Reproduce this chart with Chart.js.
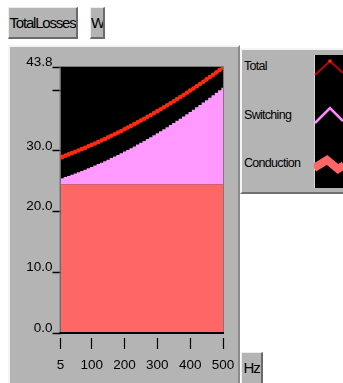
<!DOCTYPE html>
<html><head><meta charset="utf-8">
<script src="https://cdn.jsdelivr.net/npm/chart.js@4.4.0/dist/chart.umd.min.js"></script>
<style>
html,body{margin:0;padding:0;background:#fff;width:343px;height:383px;overflow:hidden;font-family:"Liberation Sans",Arial,sans-serif;}
.btn{position:absolute;background:#b4b4b4;border-style:solid;border-width:1px 2px 2px 1px;border-color:#ececec #6a6a6a #6a6a6a #ececec;box-sizing:border-box;font-size:15px;letter-spacing:-1.2px;color:#000;line-height:29px;text-align:center;white-space:nowrap;overflow:hidden;}
#panel{position:absolute;left:8px;top:45px;width:232px;height:345px;background:#b4b4b4;border-top:2px solid #f4f4f4;border-left:2px solid #f4f4f4;border-right:2px solid #8a8a8a;box-sizing:border-box;}
#legend{position:absolute;left:240px;top:48px;width:110px;height:146px;background:#b4b4b4;border-top:2px solid #f4f4f4;border-left:2px solid #f4f4f4;border-bottom:2px solid #707070;box-sizing:border-box;}
.lg{position:absolute;left:244px;font-size:12.5px;letter-spacing:-0.7px;color:#000;line-height:14px;white-space:nowrap;}
#sw{position:absolute;left:314px;top:55px;}
canvas{position:absolute;left:0;top:0;}
</style></head>
<body>
<div class="btn" style="left:8px;top:7px;width:70px;height:32px;">TotalLosses</div>
<div class="btn" style="left:90px;top:7px;width:15px;height:32px;">W</div>
<div id="panel"></div>
<div id="legend"></div>
<div class="lg" style="top:59px;">Total</div>
<div class="lg" style="top:108px;">Switching</div>
<div class="lg" style="top:156px;">Conduction</div>
<svg id="sw" width="29" height="133" viewBox="0 0 29 133">
  <rect x="0" y="0" width="29" height="133" fill="#000"/>
  <line x1="0.5" y1="0" x2="0.5" y2="133" stroke="#d8d8d8" stroke-width="1"/>
  <polyline points="1,20 16,6 29,18" fill="none" stroke="#c00000" stroke-width="2"/>
  <circle cx="16" cy="6" r="1.8" fill="#ff2a10"/>
  <polyline points="1,68 16,53 29,66" fill="none" stroke="#ff88ff" stroke-width="2.5"/>
  <polyline points="0,113 13,105 24,114 30,110" fill="none" stroke="#ff6666" stroke-width="8" stroke-linejoin="miter"/>
</svg>
<canvas id="c" width="343" height="383"></canvas>
<script>
const hz = [5,10,20,30,40,50,60,70,80,90,100,110,120,130,140,150,160,170,180,190,200,210,220,230,240,250,260,270,280,290,300,310,320,330,340,350,360,370,380,390,400,410,420,430,440,450,460,470,480,490,500];
const totalLosses = [28.9,29.0,29.2,29.41,29.62,29.84,30.06,30.28,30.51,30.74,30.97,31.21,31.45,31.7,31.95,32.21,32.47,32.73,33.0,33.27,33.55,33.83,34.11,34.4,34.69,34.99,35.29,35.59,35.9,36.21,36.53,36.85,37.17,37.5,37.83,38.17,38.51,38.85,39.2,39.56,39.91,40.27,40.64,41.01,41.38,41.76,42.14,42.52,42.91,43.3,43.7];
const switchingLosses = [0.9,0.99,1.18,1.37,1.56,1.77,1.97,2.18,2.4,2.62,2.84,3.07,3.31,3.55,3.79,4.04,4.3,4.56,4.82,5.09,5.37,5.65,5.93,6.22,6.52,6.82,7.12,7.43,7.74,8.06,8.39,8.72,9.05,9.39,9.73,10.08,10.43,10.79,11.16,11.52,11.9,12.28,12.66,13.05,13.44,13.84,14.24,14.65,15.06,15.48,15.9];
const conductionLosses = [24.5,24.5,24.5,24.5,24.5,24.5,24.5,24.5,24.5,24.5,24.5,24.5,24.5,24.5,24.5,24.5,24.5,24.5,24.5,24.5,24.5,24.5,24.5,24.5,24.5,24.5,24.5,24.5,24.5,24.5,24.5,24.5,24.5,24.5,24.5,24.5,24.5,24.5,24.5,24.5,24.5,24.5,24.5,24.5,24.5,24.5,24.5,24.5,24.5,24.5,24.5];
const yTickValues = [0,10,20,30,40,43.8];
const yTickLabels = ['0.0','10.0','20.0','30.0','','43.8'];
const xTickValues = [5,100,200,300,400,500];
const xTickLabels = ['5','100','200','300','400','500'];

const pts = arr => hz.map((h,i)=>({x:h,y:arr[i]}));
const switchingTop = hz.map((h,i)=>({x:h,y:conductionLosses[i]+switchingLosses[i]}));

const frame = {
  id:'frame',
  beforeDatasetsDraw(chart){
    const a = chart.chartArea, ctx = chart.ctx;
    ctx.save(); ctx.fillStyle='#000'; ctx.fillRect(a.left,a.top,a.right-a.left,a.bottom-a.top); ctx.restore();
  },
  afterDraw(chart){
    const a = chart.chartArea, ctx = chart.ctx;
    ctx.save();
    ctx.strokeStyle='#7a7a7a'; ctx.lineWidth=1;
    ctx.beginPath();
    ctx.moveTo(a.left-0.5,a.bottom); ctx.lineTo(a.left-0.5,a.top-0.5); ctx.lineTo(a.right+0.5,a.top-0.5); ctx.lineTo(a.right+0.5,a.bottom);
    ctx.stroke();
    ctx.strokeStyle='#000'; ctx.lineWidth=2;
    ctx.beginPath(); ctx.moveTo(a.left-1,a.bottom); ctx.lineTo(a.right+1,a.bottom); ctx.stroke();
    ctx.restore();
  }
};

new Chart(document.getElementById('c'), {
  type:'line',
  data:{datasets:[
    {label:'Total', data:pts(totalLosses), borderColor:'#d80a00', borderWidth:2.5, pointRadius:2.3, pointBackgroundColor:'#ff2a10', pointBorderWidth:0, fill:false, tension:0},
    {label:'Switching', data:switchingTop, borderWidth:0, borderColor:'rgba(0,0,0,0)', backgroundColor:'#ff99ff', pointRadius:0, fill:2, stepped:'middle'},
    {label:'Conduction', data:pts(conductionLosses), borderWidth:0, borderColor:'rgba(0,0,0,0)', backgroundColor:'#ff6666', pointRadius:0, fill:'origin'}
  ]},
  options:{
    responsive:false, animation:false, events:[],
    layout:{padding:{left:7.5,top:67,right:120,bottom:0}},
    plugins:{legend:{display:false}, tooltip:{enabled:false}},
    scales:{
      x:{type:'linear', min:5, max:500,
        afterBuildTicks:s=>{s.ticks=xTickValues.map(v=>({value:v}));},
        afterFit:s=>{s.height=50;},
        border:{display:false},
        grid:{drawOnChartArea:false, drawTicks:true, tickLength:16, tickColor:'#000', tickWidth:1.2, tickBorderDash:[0,5,11,100]},
        ticks:{color:'#000', font:{family:'"Liberation Sans", Arial, sans-serif', size:13.5}, padding:8, maxRotation:0, autoSkip:false,
          callback:(v)=>xTickLabels[xTickValues.indexOf(v)]}
      },
      y:{type:'linear', min:0, max:43.8,
        afterBuildTicks:s=>{s.ticks=yTickValues.map(v=>({value:v}));},
        afterFit:s=>{s.width=53;},
        border:{display:false},
        grid:{drawOnChartArea:false, drawTicks:true, tickLength:8, tickColor:'#000', tickWidth:1.5},
        ticks:{color:'#000', font:{family:'"Liberation Sans", Arial, sans-serif', size:13.5}, padding:0, labelOffset:-5, autoSkip:false,
          callback:(v)=>yTickLabels[yTickValues.indexOf(v)]}
      }
    }
  },
  plugins:[frame]
});
</script>
<div class="btn" style="left:241px;top:352px;width:22px;height:34px;">Hz</div>
</body></html>
